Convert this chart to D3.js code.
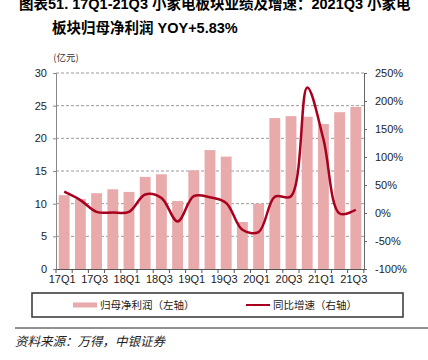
<!DOCTYPE html>
<html>
<head>
<meta charset="utf-8">
<script src="https://cdn.jsdelivr.net/npm/d3@7"></script>
<style>
  body { margin: 0; background: #fff; }
  svg { display: block; font-family: "Liberation Sans", Arial, "Noto Sans CJK SC", sans-serif; }
</style>
</head>
<body>
<svg id="chart" width="428" height="360"></svg>
<script>
const quarters = ['17Q1','17Q2','17Q3','17Q4','18Q1','18Q2','18Q3','18Q4','19Q1','19Q2',
                  '19Q3','19Q4','20Q1','20Q2','20Q3','20Q4','21Q1','21Q2','21Q3'];
// 归母净利润 (亿元)
const profit = [11.3, 10.7, 11.6, 12.2, 11.8, 14.1, 14.5, 10.4, 15.1, 18.2,
                17.2, 7.2, 10.0, 23.1, 23.4, 23.3, 22.2, 24.0, 24.8];
// 同比增速 (%)
const yoy = [38, 23, 2, 1, 2, 33, 27, -15, 30, 28,
             18, -30, -34, 29, 30, 224, 132, -1, 5.83];
const leftTicks = [0, 5, 10, 15, 20, 25, 30];
const rightTicks = [-100, -50, 0, 50, 100, 150, 200, 250];
const shownLabels = quarters.filter((d, i) => i % 2 === 0);

const cjk = '"Noto Sans CJK SC", sans-serif';
const barColor = '#e8aaaa';
const lineColor = '#a8001e';

const svg = d3.select('#chart');
const plot = { left: 56, right: 364, top: 73, bottom: 269 };

const x = d3.scaleBand()
  .domain(quarters)
  .range([plot.left, plot.right])
  .paddingInner(0.33)
  .paddingOuter(0.17);
const yLeft = d3.scaleLinear().domain([0, 30]).range([plot.bottom, plot.top]);
const yRight = d3.scaleLinear().domain([-100, 250]).range([plot.bottom, plot.top]);

// title
const title = svg.append('g').attr('font-weight', 'bold').attr('font-size', 14.5).attr('fill', '#000');
title.append('text').attr('x', 19).attr('y', 9)
  .text('图表51. 17Q1-21Q3 小家电板块业绩及增速：2021Q3 小家电');
title.append('text').attr('x', 52).attr('y', 33)
  .text('板块归母净利润 YOY+5.83%');

// gridlines
svg.append('g')
  .selectAll('line')
  .data(leftTicks.filter(d => d > 0))
  .join('line')
  .attr('x1', plot.left).attr('x2', plot.right)
  .attr('y1', d => yLeft(d)).attr('y2', d => yLeft(d))
  .attr('stroke', '#9a9a9a')
  .attr('stroke-dasharray', '3,2');

// bars
svg.append('g')
  .selectAll('rect')
  .data(profit)
  .join('rect')
  .attr('x', (d, i) => x(quarters[i]))
  .attr('y', d => yLeft(d))
  .attr('width', x.bandwidth())
  .attr('height', d => yLeft(0) - yLeft(d))
  .attr('fill', barColor);

// left axis
const axL = svg.append('g')
  .attr('transform', `translate(${plot.left},0)`)
  .call(d3.axisLeft(yLeft).tickValues(leftTicks).tickSize(3).tickPadding(6));
axL.select('.domain').attr('stroke', '#888');
axL.selectAll('.tick line').attr('stroke', '#888');
axL.selectAll('text').attr('font-size', 11).attr('fill', '#222').attr('font-family', 'Liberation Sans, Arial');

// right axis
const axR = svg.append('g')
  .attr('transform', `translate(${plot.right},0)`)
  .call(d3.axisRight(yRight).tickValues(rightTicks).tickSize(3).tickPadding(8).tickFormat(d => d + '%'));
axR.select('.domain').attr('stroke', '#666');
axR.selectAll('.tick line').attr('stroke', '#666');
axR.selectAll('text').attr('font-size', 11).attr('fill', '#222').attr('font-family', 'Liberation Sans, Arial');

// x axis
const axX = svg.append('g')
  .attr('transform', `translate(0,${plot.bottom})`)
  .call(d3.axisBottom(x).tickValues([]).tickSizeOuter(0));
axX.select('.domain').attr('stroke', '#555');
axX.selectAll('.sep')
  .data(d3.range(quarters.length + 1))
  .join('line')
  .attr('class', 'sep')
  .attr('x1', i => plot.left + i * x.step()).attr('x2', i => plot.left + i * x.step())
  .attr('y1', 0).attr('y2', 4)
  .attr('stroke', '#555');
axX.selectAll('.lbl')
  .data(shownLabels)
  .join('text')
  .attr('class', 'lbl')
  .attr('x', d => x(d) + x.bandwidth() / 2 - 2)
  .attr('y', 14)
  .attr('text-anchor', 'middle')
  .attr('font-size', 11)
  .attr('fill', '#222')
  .text(d => d);

// YoY line
const line = d3.line()
  .x((d, i) => x(quarters[i]) + x.bandwidth() / 2)
  .y(d => yRight(d))
  .curve(d3.curveCatmullRom.alpha(0.5));
svg.append('path')
  .datum(yoy)
  .attr('d', line)
  .attr('fill', 'none')
  .attr('stroke', lineColor)
  .attr('stroke-width', 2.5)
  .attr('stroke-linejoin', 'round');

// unit label
svg.append('text')
  .attr('x', 66).attr('y', 61)
  .attr('text-anchor', 'middle')
  .attr('font-size', 9.5)
  .attr('font-family', cjk)
  .attr('fill', '#333')
  .text('(亿元)');

// legend
const legend = svg.append('g');
legend.append('rect')
  .attr('x', 32).attr('y', 293).attr('width', 371).attr('height', 24)
  .attr('fill', 'none').attr('stroke', '#333').attr('stroke-width', 1.5);
legend.append('rect')
  .attr('x', 73).attr('y', 302.5).attr('width', 24).attr('height', 5)
  .attr('fill', barColor);
legend.append('text')
  .attr('x', 100).attr('y', 309)
  .attr('font-size', 10.5).attr('font-family', cjk).attr('fill', '#222')
  .text('归母净利润（左轴）');
legend.append('line')
  .attr('x1', 246).attr('x2', 270).attr('y1', 305).attr('y2', 305)
  .attr('stroke', lineColor).attr('stroke-width', 2);
legend.append('text')
  .attr('x', 273).attr('y', 309)
  .attr('font-size', 10.5).attr('font-family', cjk).attr('fill', '#222')
  .text('同比增速（右轴）');

// source
svg.append('line')
  .attr('x1', 15).attr('x2', 428).attr('y1', 328).attr('y2', 328)
  .attr('stroke', '#222').attr('stroke-width', 1);
svg.append('text')
  .attr('x', 15).attr('y', 346)
  .attr('font-size', 12.5).attr('font-family', cjk).attr('font-style', 'italic').attr('fill', '#222')
  .text('资料来源：万得，中银证券');
</script>
</body>
</html>
